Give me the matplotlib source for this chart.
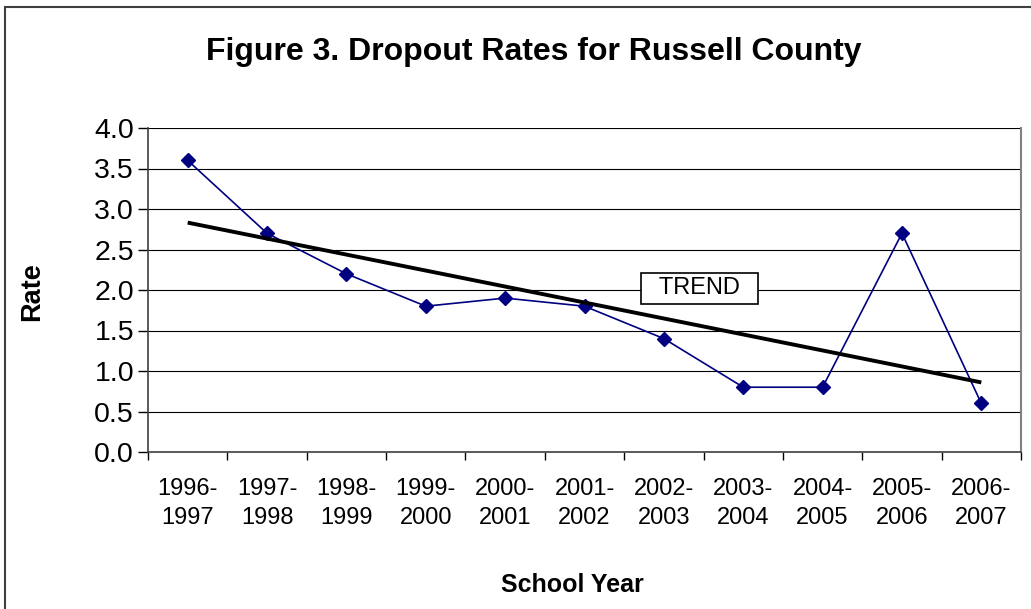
import matplotlib
matplotlib.use("Agg")
import matplotlib.pyplot as plt
import numpy as np
from matplotlib.patches import Rectangle

plt.rcParams['font.family'] = ['Liberation Sans', 'DejaVu Sans']

years = ["1996-\n1997", "1997-\n1998", "1998-\n1999", "1999-\n2000", "2000-\n2001",
         "2001-\n2002", "2002-\n2003", "2003-\n2004", "2004-\n2005", "2005-\n2006",
         "2006-\n2007"]
rates = [3.6, 2.7, 2.2, 1.8, 1.9, 1.8, 1.4, 0.8, 0.8, 2.7, 0.6]
yticks = [0.0, 0.5, 1.0, 1.5, 2.0, 2.5, 3.0, 3.5, 4.0]

fig = plt.figure(figsize=(10.31, 6.09), dpi=100)
ax = fig.add_axes([148/1031, 1-452/609, (1021-148)/1031, (452-128)/609])

x = np.arange(len(rates))
ax.plot(x, rates, color='#000080', lw=1.2, marker='D', markersize=7, zorder=3)

# linear trend
coef = np.polyfit(x, rates, 1)
ax.plot(x, np.polyval(coef, x), color='black', lw=2.8, zorder=4, solid_capstyle='butt')

ax.set_xlim(-0.5, len(rates)-0.5)
ax.set_ylim(0, 4.0)
ax.set_yticks(yticks)
ax.set_yticklabels([f"{v:.1f}" for v in yticks], fontsize=20.5)
ax.yaxis.grid(True, color='black', lw=0.8)
ax.set_axisbelow(True)

ax.set_xticks(x)
ax.set_xticklabels(years, fontsize=17, linespacing=1.4)
ax.set_xticks(np.arange(-0.5, len(rates)), minor=True)
ax.tick_params(axis='x', which='major', length=0, pad=19)
ax.tick_params(axis='x', which='minor', length=6, width=1, direction='out', color='black')
ax.tick_params(axis='y', length=7, width=1, direction='out', pad=3)

for s in ['left', 'bottom']:
    ax.spines[s].set_color('#404040')
    ax.spines[s].set_linewidth(1.2)
ax.spines['right'].set_color('#808080')
ax.spines['right'].set_linewidth(1.5)
ax.spines['top'].set_visible(False)

ax.text(6.45, 2.02, "  TREND  ", fontsize=17, ha='center', va='center', zorder=5,
        bbox=dict(boxstyle='square,pad=0.2', fc='white', ec='black', lw=1.2))

fig.text(534/1031, 1-52/609, "Figure 3. Dropout Rates for Russell County",
         fontsize=23, fontweight='bold', ha='center', va='center')
fig.text(32/1031, 1-292/609, "Rate", fontsize=19.5, fontweight='bold', rotation=90,
         ha='center', va='center')
fig.text(572/1031, 1-585/609, "School Year", fontsize=18, fontweight='bold',
         ha='center', va='center')

fig.patches.append(Rectangle((5/1031, -0.1), 1.2, 1.1 - 7/609, transform=fig.transFigure,
                             fill=False, ec='#404040', lw=1.5))

fig.savefig("out.png", dpi=100)
